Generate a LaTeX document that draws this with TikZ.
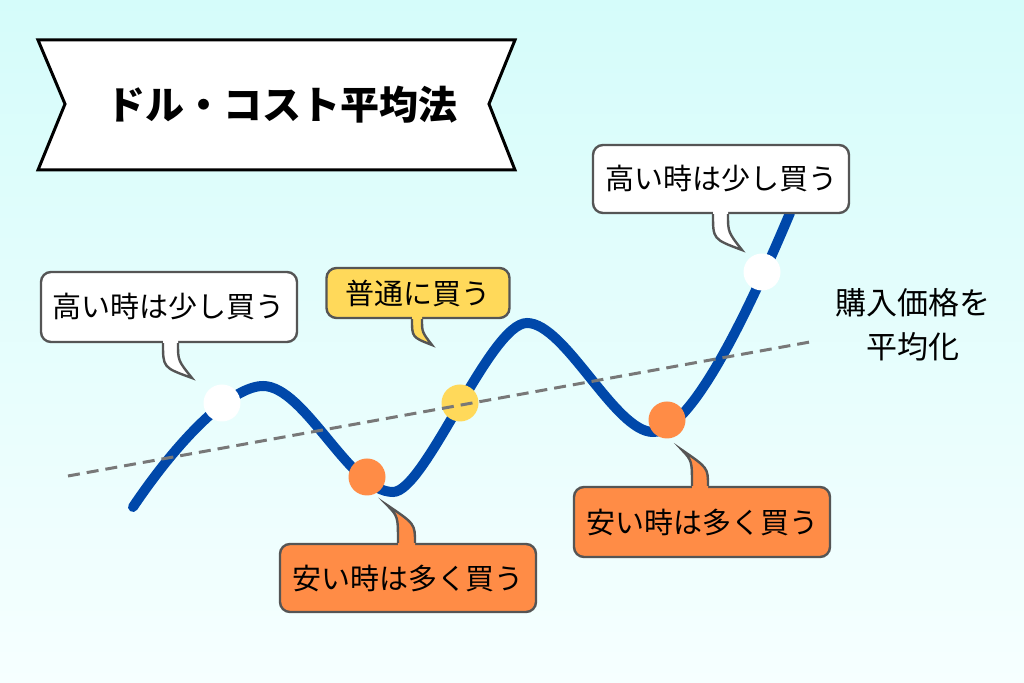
\documentclass[tikz,border=0pt]{standalone}
\usepackage{fontspec}
\newfontfamily\jp{Noto Sans CJK JP}
\usetikzlibrary{calc}

\definecolor{skytop}{RGB}{213,252,250}
\definecolor{skybot}{RGB}{246,255,255}
\definecolor{curveblue}{RGB}{0,72,170}
\definecolor{bubgray}{RGB}{85,85,85}
\definecolor{loworange}{RGB}{255,140,70}
\definecolor{midyellow}{RGB}{255,217,90}
\definecolor{avggray}{RGB}{120,120,120}

% tail of a speech bubble: box edge, left x, right x, tip, fill
\newcommand\bubtail[5]{%
  \coordinate (tl) at (#2,0 |- #1);
  \coordinate (tr) at (#3,0 |- #1);
  \coordinate (tp) at (#4);
  \coordinate (tlb) at (tl |- tp);
  \coordinate (trb) at (tr |- tp);
  \fill[#5] ($(tl)!-5pt!(tlb)$) -- (tl)
    .. controls ($(tl)!0.7!(tlb)$) .. (tp)
    .. controls ($(tr)!0.5!(trb)$) .. (tr) -- ($(tr)!-5pt!(trb)$) -- cycle;
  \draw[bubgray, line width=1.2pt] (tl)
    .. controls ($(tl)!0.7!(tlb)$) .. (tp)
    .. controls ($(tr)!0.5!(trb)$) .. (tr);
}

\begin{document}
\begin{tikzpicture}[x=0.5pt, y=-0.5pt,
    bubble/.style={draw=bubgray, line width=1.2pt, rounded corners=5pt,
      inner sep=0pt, font=\jp\fontsize{14.5}{17}\selectfont,
      minimum width=128pt, minimum height=35pt},
    dot/.style={circle, inner sep=0pt, minimum size=18.5pt}]

  \useasboundingbox (0,0) rectangle (1024,683);
  \shade[top color=skytop, bottom color=skybot] (0,0) rectangle (1024,683);

  % title banner
  \filldraw[fill=white, draw=black, line width=1.5pt]
    (38,40) -- (515,40) -- (489,104) -- (515,170) -- (38,170) -- (65,104) -- cycle;
  \node[font=\jp\bfseries\fontsize{19.5}{22}\selectfont] (title) at (282,105) {ドル・コスト平均法};

  % price curve
  \draw[curveblue, line width=5pt, line cap=round]
    (133,507) .. controls (185,430) and (235,386) .. (263,386)
    .. controls (305,386) and (350,492) .. (393,492)
    .. controls (425,492) and (490,323) .. (527,323)
    .. controls (565,323) and (615,432) .. (653,432)
    .. controls (690,432) and (745,320) .. (790,213);

  \node[dot, fill=white] (hiA) at (222,403) {};
  \node[dot, fill=loworange] (loA) at (367,477) {};
  \node[dot, fill=midyellow] (midA) at (460,403) {};
  \node[dot, fill=loworange] (loB) at (667,420) {};
  \node[dot, fill=white] (hiB) at (762,272) {};

  % average line
  \draw[avggray, line width=1.5pt, dash pattern=on 6pt off 3.5pt] (68,476) -- (810,342);
  \node[font=\jp\fontsize{15.5}{22}\selectfont, align=center] (avg) at (913,325)
    {購入価格を\\平均化};

  % bubbles
  \node[bubble, fill=white] (hiLtxt) at (169,307) {高い時は少し買う};
  \bubtail{hiLtxt.south}{163}{178}{192,378}{white}
  \node[bubble, fill=midyellow, minimum width=91.5pt, minimum height=25pt]
    (midtxt) at (418,293) {普通に買う};
  \bubtail{midtxt.south}{412}{422}{432,345}{midyellow}
  \node[bubble, fill=white, minimum height=34pt] (hiRtxt) at (721,179) {高い時は少し買う};
  \bubtail{hiRtxt.south}{713}{728}{742,250}{white}
  \node[bubble, fill=loworange, minimum height=34pt] (loAtxt) at (408,578) {安い時は多く買う};
  \bubtail{loAtxt.north}{398}{415}{387,505}{loworange}
  \node[bubble, fill=loworange] (loBtxt) at (702,522) {安い時は多く買う};
  \bubtail{loBtxt.north}{692}{708}{682,450}{loworange}
\end{tikzpicture}
\end{document}
